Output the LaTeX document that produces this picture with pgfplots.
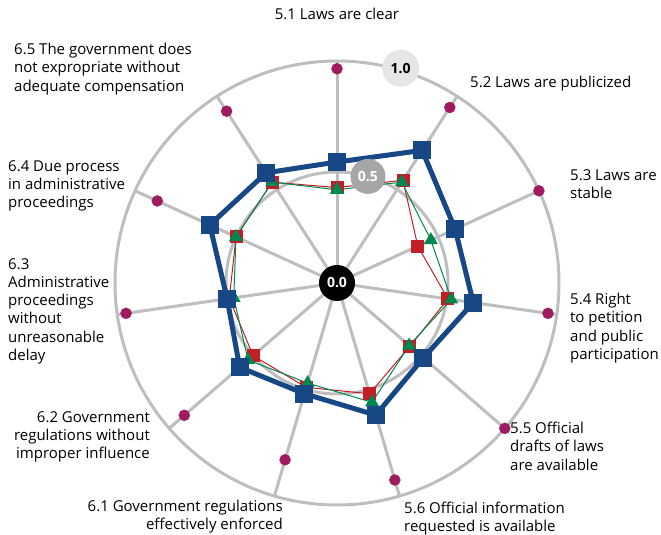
\documentclass[border=0pt]{standalone}
\usepackage{fontspec}
\setmainfont{Open Sans}
\usepackage{pgfplots}
\pgfplotsset{compat=1.18}
\definecolor{gridgray}{RGB}{190,190,190}
\definecolor{wjpblue}{RGB}{23,71,133}
\definecolor{wjpred}{RGB}{193,30,38}
\definecolor{wjpgreen}{RGB}{0,135,80}
\definecolor{wjpmag}{RGB}{158,27,96}
\definecolor{disc5}{RGB}{166,166,166}
\definecolor{disc10}{RGB}{230,230,230}
\begin{document}
\begin{tikzpicture}[x=1pt,y=1pt]
\path[use as bounding box] (-337,-252) rectangle (324,283);
% grid
\draw[gridgray,line width=3pt] (0,0) circle[radius=222];
\draw[gridgray,line width=3pt] (0,0) circle[radius=111];
\foreach \a in {90,57.273,24.545,-8.182,-40.909,-73.636,-106.364,-139.091,-171.818,155.455,122.727}
  \draw[gridgray,line width=3pt] (0,0) -- (\a:222);
\begin{axis}[at={(0,0)},anchor=center,scale only axis,width=444pt,height=444pt,
  xmin=-1,xmax=1,ymin=-1,ymax=1,hide axis,clip=false]
% top score
\addplot[data cs=polar,only marks,mark=*,mark size=5.5pt,wjpmag,mark options={draw=wjpmag,fill=wjpmag}] coordinates {
(90,0.965) (57.273,0.94) (24.545,1.0) (-8.182,0.96) (-40.909,1.0) (-73.636,0.925)
(-106.364,0.83) (-139.091,0.91) (-171.818,0.96) (155.455,0.89) (122.727,0.92)};
% red
\addplot[data cs=polar,wjpred,line width=1pt,mark=square*,mark size=6pt,mark options={solid,fill=wjpred,draw=wjpred}] coordinates {
(90,0.43) (57.273,0.55) (24.545,0.40) (-8.182,0.505) (-40.909,0.435) (-73.636,0.52)
(-106.364,0.49) (-139.091,0.50) (-171.818,0.49) (155.455,0.50) (122.727,0.54) (90,0.43)};
% green
\addplot[data cs=polar,wjpgreen,line width=1pt,mark=triangle*,mark size=7pt,mark options={solid,fill=wjpgreen,draw=wjpgreen}] coordinates {
(90,0.42) (57.273,0.54) (24.545,0.465) (-8.182,0.52) (-40.909,0.43) (-73.636,0.56)
(-106.364,0.47) (-139.091,0.53) (-171.818,0.47) (155.455,0.50) (122.727,0.54) (90,0.42)};
% blue
\addplot[data cs=polar,wjpblue,line width=5pt,line join=round,mark=square*,mark size=8.5pt,mark options={solid,fill=wjpblue,draw=wjpblue,line width=0pt}] coordinates {
(90,0.545) (57.273,0.71) (24.545,0.585) (-8.182,0.62) (-40.909,0.515) (-73.636,0.62)
(-106.364,0.52) (-139.091,0.58) (-171.818,0.50) (155.455,0.63) (122.727,0.59) (90,0.545)};
\end{axis}
% scale discs
\node[circle,fill=black,minimum size=36pt,inner sep=0,text=white,font=\fontsize{14}{17}\selectfont\bfseries] at (0,0) {0.0};
\node[circle,fill=disc5,minimum size=35pt,inner sep=0,text=white,font=\fontsize{14}{17}\selectfont\bfseries] at (73.8:111) {0.5};
\node[circle,fill=disc10,minimum size=37pt,inner sep=0,text=black,font=\fontsize{14}{17}\selectfont\bfseries] at (73.5:224) {1.0};
% labels
\tikzset{lab/.style={inner sep=0,font=\fontsize{15}{18.3}\selectfont,text=black}}
\node[lab,anchor=north] at (0,275) {5.1 Laws are clear};
\node[lab,anchor=north west,align=left] at (133,207) {5.2 Laws are publicized};
\node[lab,anchor=north west,align=left] at (233,114) {5.3 Laws are\\stable};
\node[lab,anchor=north west,align=left] at (233,-10) {5.4 Right\\to petition\\and public\\participation};
\node[lab,anchor=north west,align=left] at (173,-139) {5.5 Official\\drafts of laws\\are available};
\node[lab,anchor=north west,align=left] at (67,-219) {5.6 Official information\\requested is available};
\node[lab,anchor=north east,align=right] at (-54,-217) {6.1 Government regulations\\effectively enforced};
\node[lab,anchor=north east,align=right] at (-187,-128) {6.2 Government\\regulations without\\improper influence};
\node[lab,anchor=north west,align=left] at (-329,25) {6.3\\Administrative\\proceedings\\without\\unreasonable\\delay};
\node[lab,anchor=north west,align=left] at (-329,123) {6.4 Due process\\in administrative\\proceedings};
\node[lab,anchor=north west,align=left] at (-323,240) {6.5 The government does\\not expropriate without\\adequate compensation};
\end{tikzpicture}
\end{document}
